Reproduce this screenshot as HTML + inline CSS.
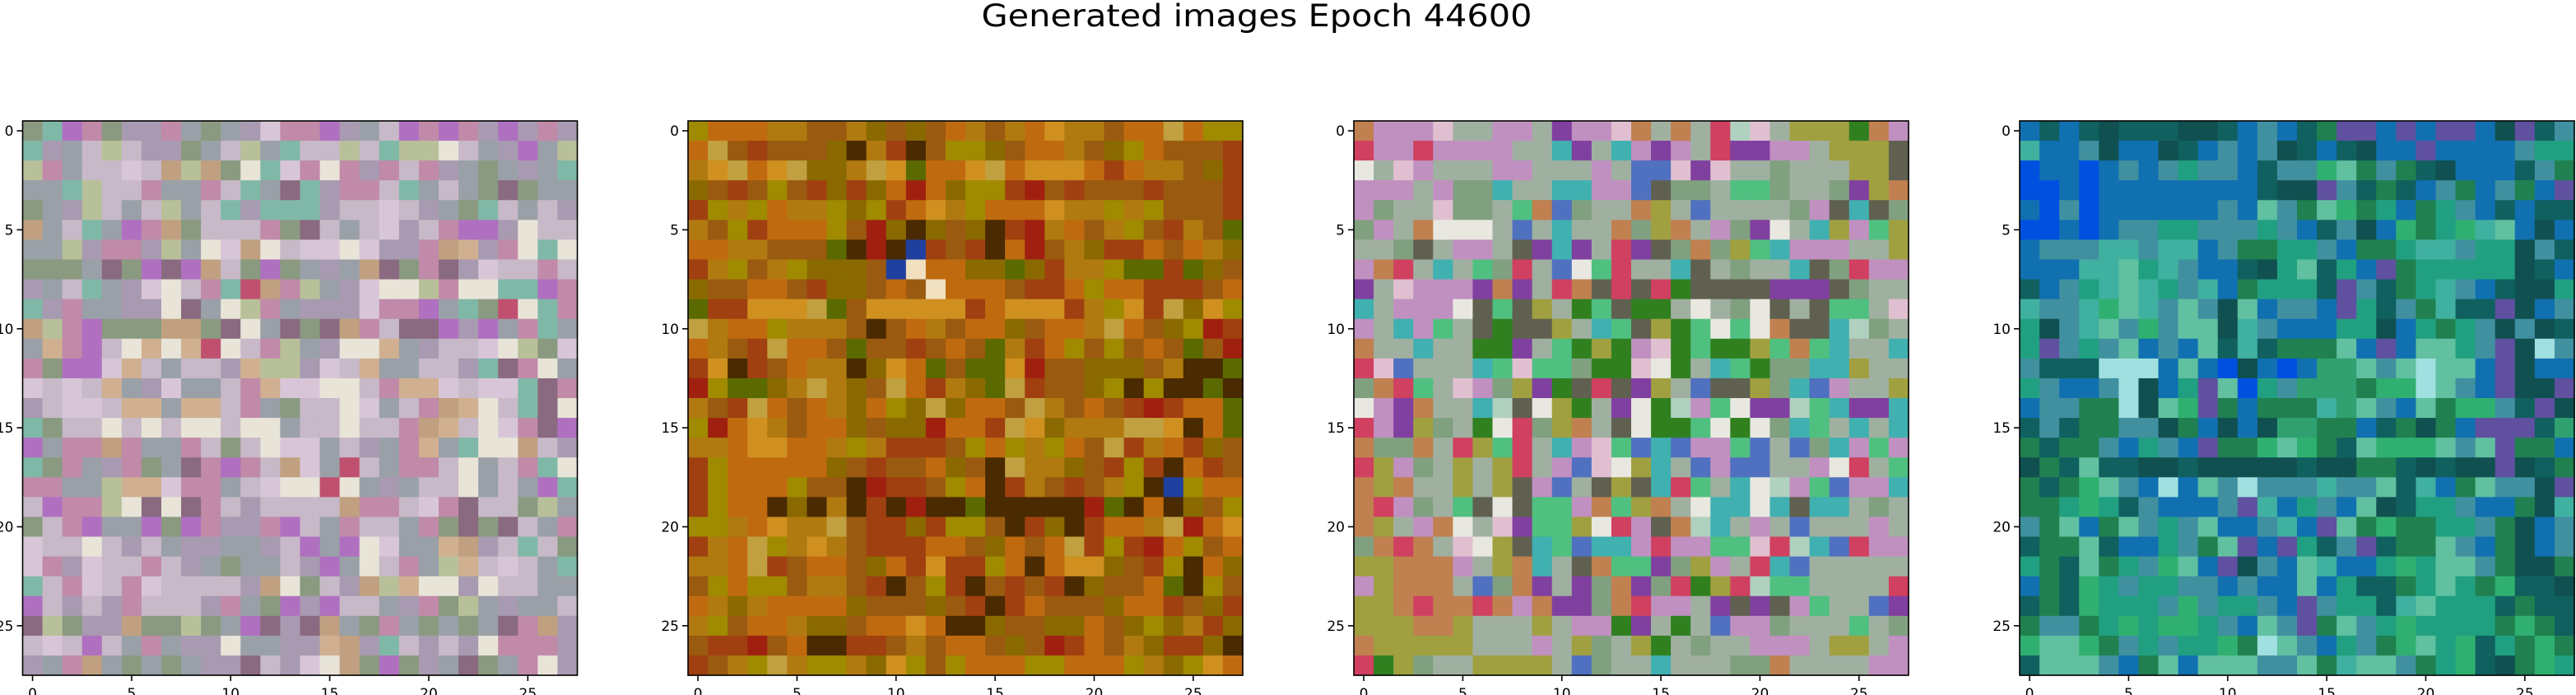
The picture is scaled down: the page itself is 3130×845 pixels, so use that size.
<!DOCTYPE html>
<html><head><meta charset="utf-8"><title>Generated images Epoch 44600</title>
<style>html,body{margin:0;padding:0;background:#fff;}svg{display:block;}</style></head>
<body>
<svg id="fig" width="3130" height="845" viewBox="0 0 3130 845" xmlns="http://www.w3.org/2000/svg">
<rect width="3130" height="845" fill="#fff"/>
<text x="1527" y="32" text-anchor="middle" font-family="'DejaVu Sans','Liberation Sans',sans-serif" font-size="37" textLength="669" lengthAdjust="spacingAndGlyphs">Generated images Epoch 44600</text>
</svg>
<script>
// Tick values
const tickValues = [0, 5, 10, 15, 20, 25];
const gridSize = 28;
// Panel palettes (index letters -> colours)
const palette1 = {a:'#a89ab0',b:'#c7b9c8',c:'#b8c09a',d:'#9aa0a8',e:'#d8c6d8',f:'#c08aa8',g:'#8a9a80',h:'#e8e4d8',k:'#8a6a80',r:'#c05070',p:'#b070c0',t:'#80b8a8',o:'#c0a080',l:'#d0b090'};
const palette2 = {a:'#b07a10',b:'#c06a10',c:'#9a5a10',d:'#a08a00',e:'#8a6a00',f:'#a04010',g:'#d09020',k:'#4a2a00',m:'#5a6a00',n:'#c0a040',r:'#a02010',w:'#f0e0c0',u:'#2040a0'};
const palette3 = {a:'#c090c0',b:'#a0b0a0',c:'#e0c0d0',d:'#80a080',e:'#50c080',f:'#b0d0c0',g:'#a0a040',k:'#606050',p:'#8040a0',r:'#d04060',t:'#40b0b0',w:'#e8e8e0',o:'#c08050',u:'#5070c0',m:'#308020'};
const palette4 = {a:'#20a080',b:'#1070b0',c:'#40b0a0',d:'#106060',e:'#30b070',f:'#0050e0',g:'#60c0a0',k:'#105050',m:'#208050',n:'#4090a0',p:'#6050a0',w:'#a0e0e0',r:'#30a070'};
// Pixel rows (palette indices)
const image1 = [
'gtpfgaafdgdaeffpadbpfpfapafag','tadbcbaagdbcdtbbcbtcchbdapdc','cfdbbebocoghtefhfafbfadgdadt','ddtcbbfddfbtdktaffbtdbdgkgdd','gdacbdbcdbtatttabbebadgtbdba','odbtdpfogbbbfgkbdbeabfppahbbo','ddcaffacdheohbeeheaafolafhthd','gggdkgpkpobgpgdadokgfkaebbfbb','adbtdaehbftrofcdaehhcfhhttpfd','tafddaahkdhcfdaaaeffpdtgrhtfh','ocfpgggoogkhdkgkofbkkpapdftd','dlfpbhlhlrhbfcdahhldabbehcgeb','fgppelbdbbmlccaeblddbbatkfhd','ebebldaeddbfleehhbfllebeetkfb','abeeblldllbfdgbbhedbfolhbtkhg','tgbbhbhbhhbhhdbbhbbfolbhefkpb','pdffofddfbgbheedbadfldthhobaa','tgfdafgdkfpfboedrbdffbhdbfth','ffddclleffdbehhrhdadbbhdbdpt','bpffchkhkfbabbbboffbefkbbgcdd','gbfpddpgpfaafpbdfbbdfgkgkbdfd','ebbhbabdaaddabpdpheddloabtbg','efaebbfbadgddbapdhbfdclbebdt','tbfebfebbbbaohgbaoclhhahbbdd','pbabafbbbafdgpapbbdafgcdaddbf','kcgaaoggcgdpkmkodgfdgdgdkfoad','bebpbdfdaahddaaloatbabahfffad','adfodgdgdaakbaehogpgadkgdfhad'];
const image2 = [
'dbbbaaccaececbacabgaacbbnbdd','bncfcccekafkcddecbbacedbcccf','agnbgneeangmbbgnbgggbfbaacef','ecfcdcfefebrbeddfrcfcccfcccfr','fdadbaadedfbgadbbbgaadadcccfe','acdfbbbdcrekecekfrabcadcfacm','bbaacccmkrkufcfkbrcaeffbcbae','fadcadeeecuwbbeemefaadmmfmec','eccbbcfeecbcwbbbcffbdbbfffcbf','mffgggnmcgggggfbgggfadgfnegd','nabbdaaackcbacbbecbbanbcedrf','bacfnbbcmccfcbcmafbdcdcbcmcr','fgkfcbaakegbmcmmgrcceeecakkmf','rdmmeanaecnbfaemnfccedkdkkmk','acfnbcbaebdenebbcnacbcfrfbbm','drbgacbbeceerbbfngeaaanngkbm','aabggbbadafffcdbdadbcnfabfec','fdbbbbbecfccbecknaaecfdfkbfcb','fdbbbdcckrffcdbkfacfcadkudbbb','fdbbkekpkfkrkkmkkkkkrmkbkecd','ddabgaancffefddckfekfbbanrbgn','fabndagacfffbbcebcbnfdfrbdcb','aabnfcbbcebfgffdbkbggecfdkbec','cdbddcaacfkcdfkcfcfkeccbmkdcf','baeabbbbecccecfkfbcccebbfcefc','adcbbaeecbbgbkkecceebcedeafe','cffrcbkkffcacbbcecrfbcaeffekf','fcadnaddaegdcdbbbddbbbdaedgb'];
const image3 = [
'oaaacbbaabpaacobobrfcbgggm','raaraaaabbtpbtapabrppaabgggk','wbcabbbaabbbabuucpcbbdbbbggkm','aaabaddtbbttaaukddbeedbbdpgo','adbbcddbeoudbbogbubbbbdaktkd','dabowwwbubtbbodgobadpwbtgaeg','bbdkbaabkptpbrpkdodgetaaabbg','aorbtbedrbuwerbbtkbdbbtkdraat','pbcaaapopbrokrkrmkkkkpppkdbbg','tbaaawkekgbmekmmbwbdwkbkeebcd','abtaebkmkkgbtekgmewewokktfdbd','obbtbbmmpbemgmacmemmgeoetbbtp','rcubbbteceedmmcwmbtemddttgbbt','dorebcadgpmkrkpgbukkgdtuabbgg','wapobbtfkwgmbpwmfaewppfetpptk','rapgdbmwrdgobkwmmewmwdtebtbte','oddobrgerbtaceutuaaeubudtaea','rgadbgbgrbaucwgtbuauubbawrbeb','ogobbgbgkaubkgktrebtwfaeuaatd','oradbekwkeeaoegobwttwtkttbdbt','ogbaowbcpeegwrakoftbabubbbabu','dorobcwgkteuttaraaeecrfturaabo','ggoooabgotbkoeepdgabrtubbbbb','agooobudopbpdopdrmgrfeebbbbr','ggorooroaoppdoraabpkpkaebbupk','gggoogbbbgbaampbmbuaadbbbebdu','ogggggbbbabgdbgmbdbbaaabggbar','rmgdbbggggbudbbtbbbddobbbbaap'];
const image4 = [
'bdbdkdddkkdbnbdmppbpbppbkpdna','cbbnkbbkdbnbnkdbdkbbpbbbbnaae','fbbfbnbnannbdnnegmnmdkbbbdnm','ffbfbbbbbbbbdkkpndmdbnmbnmbpkn','bfnfbbbbbbnbgnmgemabmanbdbdd','ffbfbnnaannnanbdnkbemaecgbkbgm','bnnnccnccbnmmaanbmmaccnaakndmm','bbbccgacnbbdkagdabpmaaaaakdbd','dbnacgcancbmaaadpndmacnbdkkam','cnncegcngnkgbnnbpadnmcddpkbnge','akncgnenggkcnbbbaakbamanknkdmg','apnangbnbgdcdmmmgbpbgganpkwngc','ndddwwwbgbfkbfbrrgngwggbpkbbwg','anbbnwkbapgfanrrrmeewgnbpkkpwg','bnnmmwkgepmbmmmcrgnbgmeendpkbwg','dndmmnnkmbkbkrrmmbdmkmbpppdrpbn','mdmmnbanbpmmegemdgeeegngpmmbbn','kmdgddkkdkkkkkdkkmmdkdkkpkdmdb','mdmegnbwbgnwnnncnngdcbmgnnkpwn','mmaeadnbbbnpcbanbgkdaanbbmkcgd','nmgbmgnangbbncbpgmemmaanmkbnae','dmmgdbbanmgpbpadnpdmmgnbmkbnbc','amdgmanegbpknbgcbbaeaggnmkkma','bmdeanaannbnbbgbaddmagameddkdmmm','dmdeaaanenaanbpnaadcgaaadmddk','mnnmaeaeeanbgnpmgnaeaaaamemddmm','eggemnanaaemwgnbanmegaedameme','dgggnbmgbgggnngmcggnmaedkmeam'];
const palettes = [palette1, palette2, palette3, palette4];
const images = [image1, image2, image3, image4];

const NS = 'http://www.w3.org/2000/svg';
const svg = document.getElementById('fig');
const panelLeft = [27.5, 836, 1645, 2454];
const panelTop = 147;
const panelSize = 674;
const cell = panelSize / gridSize;
function xScale(p, v) { return panelLeft[p] + v * cell; }
function yScale(v) { return panelTop + v * cell; }
function mk(tag, attrs) { const e = document.createElementNS(NS, tag); for (const k in attrs) e.setAttribute(k, attrs[k]); return e; }

images.forEach((img, p) => {
  const g = mk('g', {});
  
  
  svg.appendChild(g);
  const pal = palettes[p];
  const keys = Object.keys(pal);
  for (let r = 0; r < gridSize; r++) {
    const row = img[r % img.length];
    for (let c = 0; c < gridSize; c++) {
      const ch = row[c % row.length];
      const col = pal[ch] || pal[keys[0]];
      const rect = mk('rect', {x: xScale(p, c), y: yScale(r), width: cell + 0.6, height: cell + 0.6, fill: col});
      
      
      g.appendChild(rect);
    }
  }
  const frame = mk('rect', {x: xScale(p, 0), y: yScale(0), width: panelSize, height: panelSize, fill: 'none', stroke: '#000', 'stroke-width': 1.6});
  
  
  svg.appendChild(frame);
  tickValues.forEach(t => {
    const cx = xScale(p, t + 0.5);
    const xt = mk('line', {x1: cx, x2: cx, y1: yScale(gridSize), y2: yScale(gridSize) + 7, stroke: '#000', 'stroke-width': 1.6});
    
    
    svg.appendChild(xt);
    const xl = mk('text', {x: cx, y: yScale(gridSize) + 28, 'text-anchor': 'middle', 'font-family': "'DejaVu Sans','Liberation Sans',sans-serif", 'font-size': 17});
    xl.textContent = t;
    
    
    svg.appendChild(xl);
    const cy = yScale(t + 0.5);
    const yt = mk('line', {x1: xScale(p, 0) - 7, x2: xScale(p, 0), y1: cy, y2: cy, stroke: '#000', 'stroke-width': 1.6});
    
    
    svg.appendChild(yt);
    const yl = mk('text', {x: xScale(p, 0) - 11, y: cy + 6, 'text-anchor': 'end', 'font-family': "'DejaVu Sans','Liberation Sans',sans-serif", 'font-size': 17});
    yl.textContent = t;
    
    
    svg.appendChild(yl);
  });
});
</script>
</body></html>
